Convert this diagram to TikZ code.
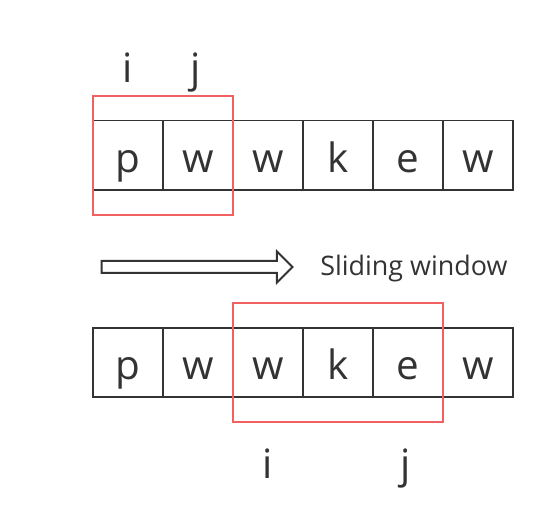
\documentclass[tikz,border=0pt]{standalone}
\usepackage{fontspec}
\setmainfont{Open Sans}
\usetikzlibrary{positioning,shapes.arrows,fit}
\definecolor{swInk}{HTML}{333333}
\definecolor{swRed}{HTML}{F26161}
\tikzset{
  % Letter cell
  cell/.style={rectangle,draw=swInk,line width=0.04cm,
    minimum size=1.4cm,inner sep=0pt,outer sep=0pt,
    text height=0.68cm,text depth=0cm,
    font=\fontsize{23}{23}\selectfont,text=swInk},
  % Red window frame
  win/.style={rectangle,draw=swRed,line width=0.04cm,
    inner xsep=0pt,inner ysep=0.5cm,outer sep=0pt},
  % Index labels
  idx/.style={anchor=base,inner sep=0pt,
    font=\fontsize{23}{23}\selectfont,text=swInk},
  % Hollow arrow
  harr/.style={single arrow,draw=swInk,line width=0.04cm,
    minimum height=3.82cm,minimum width=0.58cm,inner sep=0.1cm,
    single arrow head extend=0.19cm},
  lbl/.style={anchor=base west,inner sep=0pt,
    font=\fontsize{15.3}{15.3}\selectfont,text=swInk},
}
\begin{document}
\begin{tikzpicture}[x=0.02cm,y=-0.02cm]
  \useasboundingbox (0,0) rectangle (559,516);
  % top row
  \node[cell] (a1) at (128,155.5) {p};
  \node[cell,right=0pt of a1] (a2) {w};
  \node[cell,right=0pt of a2] (a3) {w};
  \node[cell,right=0pt of a3] (a4) {k};
  \node[cell,right=0pt of a4] (a5) {e};
  \node[cell,right=0pt of a5] (a6) {w};
  \node[win,fit=(a1)(a2)] (w1) {};
  \node[idx] (i1) at (128,83) {i};
  \node[idx] (j1) at (196,83) {j};

  % arrow
  \node[harr] (move) at (194,267) {};
  \node[lbl] (txt) at (320,276) {Sliding window};

  % bottom row
  \node[cell] (b1) at (128,362.5) {p};
  \node[cell,right=0pt of b1] (b2) {w};
  \node[cell,right=0pt of b2] (b3) {w};
  \node[cell,right=0pt of b3] (b4) {k};
  \node[cell,right=0pt of b4] (b5) {e};
  \node[cell,right=0pt of b5] (b6) {w};
  \node[win,fit=(b3)(b5)] (w2) {};
  \node[idx] (i2) at (268,479) {i};
  \node[idx] (j2) at (406,479) {j};
\end{tikzpicture}
\end{document}
